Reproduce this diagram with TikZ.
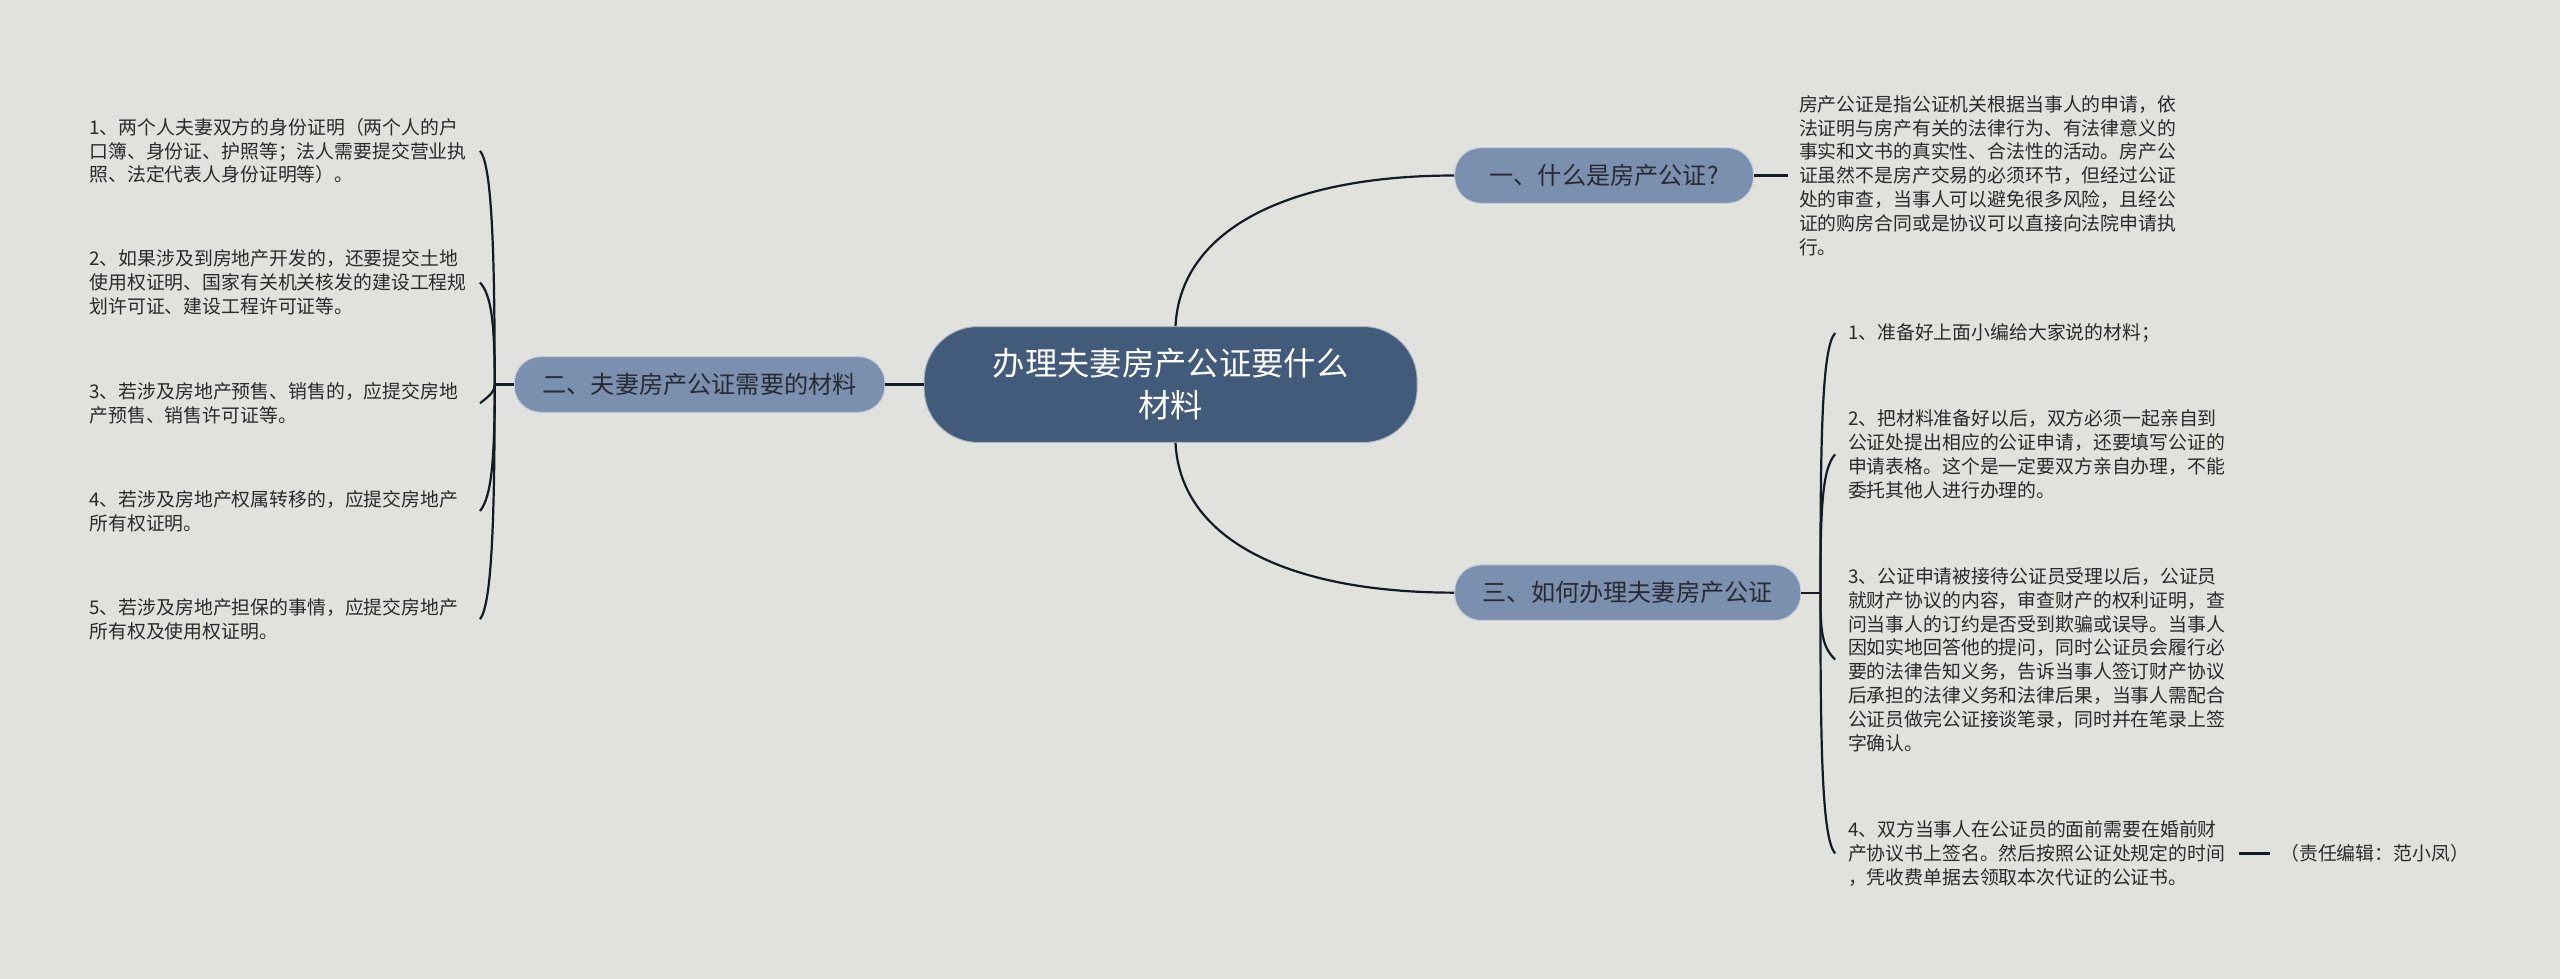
\documentclass[tikz,border=0pt]{standalone}
\usepackage{fontspec}
\setmainfont{Noto Sans CJK SC}
\definecolor{bg}{HTML}{E1E2DD}
\definecolor{cfill}{HTML}{425B7A}
\definecolor{sfill}{HTML}{7B8FAE}
\definecolor{lnk}{HTML}{151B26}
\definecolor{txt}{HTML}{2A2A2A}
\definecolor{toptxt}{HTML}{262B33}
\begin{document}
\begin{tikzpicture}[x=1pt,y=-1pt,
  conn/.style={draw=lnk,line width=1.35pt},
  centralbox/.style={rectangle,rounded corners=33pt,fill=cfill,draw=white!55!cfill,line width=0.6pt,
    text=white,align=center,font=\fontsize{19.8}{25.5}\selectfont,inner sep=0pt,
    minimum width=302pt,minimum height=71pt},
  topicbox/.style={rectangle,rounded corners=16pt,fill=sfill,draw=white!55!sfill,line width=0.6pt,
    text=toptxt,font=\fontsize{14.8}{18}\selectfont,inner sep=0pt,minimum height=34pt},
  itemtext/.style={align=left,text=txt,font=\fontsize{11.55}{14.6}\selectfont,inner ysep=0pt,text width=232pt}
]
\fill[bg] (0,0) rectangle (1568,599.6);
\useasboundingbox (0,0) rectangle (1568,599.6);

% central and main topics
\node[centralbox] (c) at (717,235.5) {办理夫妻房产公证要什么\\材料};
\node[topicbox,minimum width=183pt] (n1) at (982.5,107.5) {一、什么是房产公证?};
\node[topicbox,minimum width=227pt] (n2) at (428.5,235.5) {二、夫妻房产公证需要的材料};
\node[topicbox,minimum width=212pt] (n3) at (997,363) {三、如何办理夫妻房产公证};

\draw[conn] ([xshift=3pt]c.north) .. controls (723,140) and (790,107.5) .. (n1.west);
\draw[conn] ([xshift=3pt]c.south) .. controls (723,331) and (790,363) .. (n3.west);
\draw[conn] (c.west) -- (n2.east);

% topic 1 text
\node[itemtext,anchor=west,inner xsep=6.7pt,text width=235pt] (t1) at (1095,107.5)
 {房产公证是指公证机关根据当事人的申请，依\\
  法证明与房产有关的法律行为、有法律意义的\\
  事实和文书的真实性、合法性的活动。房产公\\
  证虽然不是房产交易的必须环节，但经过公证\\
  处的审查，当事人可以避免很多风险，且经公\\
  证的购房合同或是协议可以直接向法院申请执\\
  行。};
\draw[conn] (n1.east) -- (t1.west);

% topic 2 items (left)
\node[itemtext,anchor=east,inner xsep=7pt] (l1) at (294,92.4)
 {1、两个人夫妻双方的身份证明（两个人的户\\
  口簿、身份证、护照等；法人需要提交营业执\\
  照、法定代表人身份证明等）。};
\node[itemtext,anchor=east,inner xsep=7pt] (l2) at (294,173)
 {2、如果涉及到房地产开发的，还要提交土地\\
  使用权证明、国家有关机关核发的建设工程规\\
  划许可证、建设工程许可证等。};
\node[itemtext,anchor=east,inner xsep=7pt] (l3) at (294,247)
 {3、若涉及房地产预售、销售的，应提交房地\\
  产预售、销售许可证等。};
\node[itemtext,anchor=east,inner xsep=7pt] (l4) at (294,313)
 {4、若涉及房地产权属转移的，应提交房地产\\
  所有权证明。};
\node[itemtext,anchor=east,inner xsep=7pt] (l5) at (294,379.3)
 {5、若涉及房地产担保的事情，应提交房地产\\
  所有权及使用权证明。};

\coordinate (jl) at (303,235.5);
\draw[conn] (n2.west) -- (jl);
\draw[conn] (jl) .. controls (303,149.4) and (301,100.5) .. (l1.east);
\draw[conn] (jl) .. controls (303,197.5) and (301,181) .. (l2.east);
\draw[conn] (jl) .. controls (303,239.5) and (301,241.5) .. (l3.east);
\draw[conn] (jl) .. controls (303,282) and (301,304.5) .. (l4.east);
\draw[conn] (jl) .. controls (303,321.5) and (301,370.5) .. (l5.east);

% topic 3 items (right)
\node[itemtext,anchor=west,inner xsep=7.7pt] (r1) at (1124,204)
 {1、准备好上面小编给大家说的材料；};
\node[itemtext,anchor=west,inner xsep=7.7pt] (r2) at (1124,278.3)
 {2、把材料准备好以后，双方必须一起亲自到\\
  公证处提出相应的公证申请，还要填写公证的\\
  申请表格。这个是一定要双方亲自办理，不能\\
  委托其他人进行办理的。};
\node[itemtext,anchor=west,inner xsep=7.7pt] (r3) at (1124,404)
 {3、公证申请被接待公证员受理以后，公证员\\
  就财产协议的内容，审查财产的权利证明，查\\
  问当事人的订约是否受到欺骗或误导。当事人\\
  因如实地回答他的提问，同时公证员会履行必\\
  要的法律告知义务，告诉当事人签订财产协议\\
  后承担的法律义务和法律后果，当事人需配合\\
  公证员做完公证接谈笔录，同时并在笔录上签\\
  字确认。};
\node[itemtext,anchor=west,inner xsep=7.7pt,text width=231.5pt] (r4) at (1124,522.7)
 {4、双方当事人在公证员的面前需要在婚前财\\
  产协议书上签名。然后按照公证处规定的时间\\
  ，凭收费单据去领取本次代证的公证书。};

\coordinate (jr) at (1115,363);
\draw[conn] (n3.east) -- (jr);
\draw[conn] (jr) .. controls (1115,267.3) and (1116,212.5) .. (r1.west);
\draw[conn] (jr) .. controls (1115,312) and (1116,287) .. (r2.west);
\draw[conn] (jr) .. controls (1115,387.6) and (1116,396) .. (r3.west);
\draw[conn] (jr) .. controls (1115,458.7) and (1116,513.7) .. (r4.west);

% editor note
\node[anchor=west,text=txt,font=\fontsize{11.55}{14.6}\selectfont,inner xsep=6pt,inner ysep=0pt] (ed) at (1390.5,522.7)
 {（责任编辑：范小凤）};
\draw[conn] (r4.east) -- (ed.west);
\end{tikzpicture}
\end{document}
